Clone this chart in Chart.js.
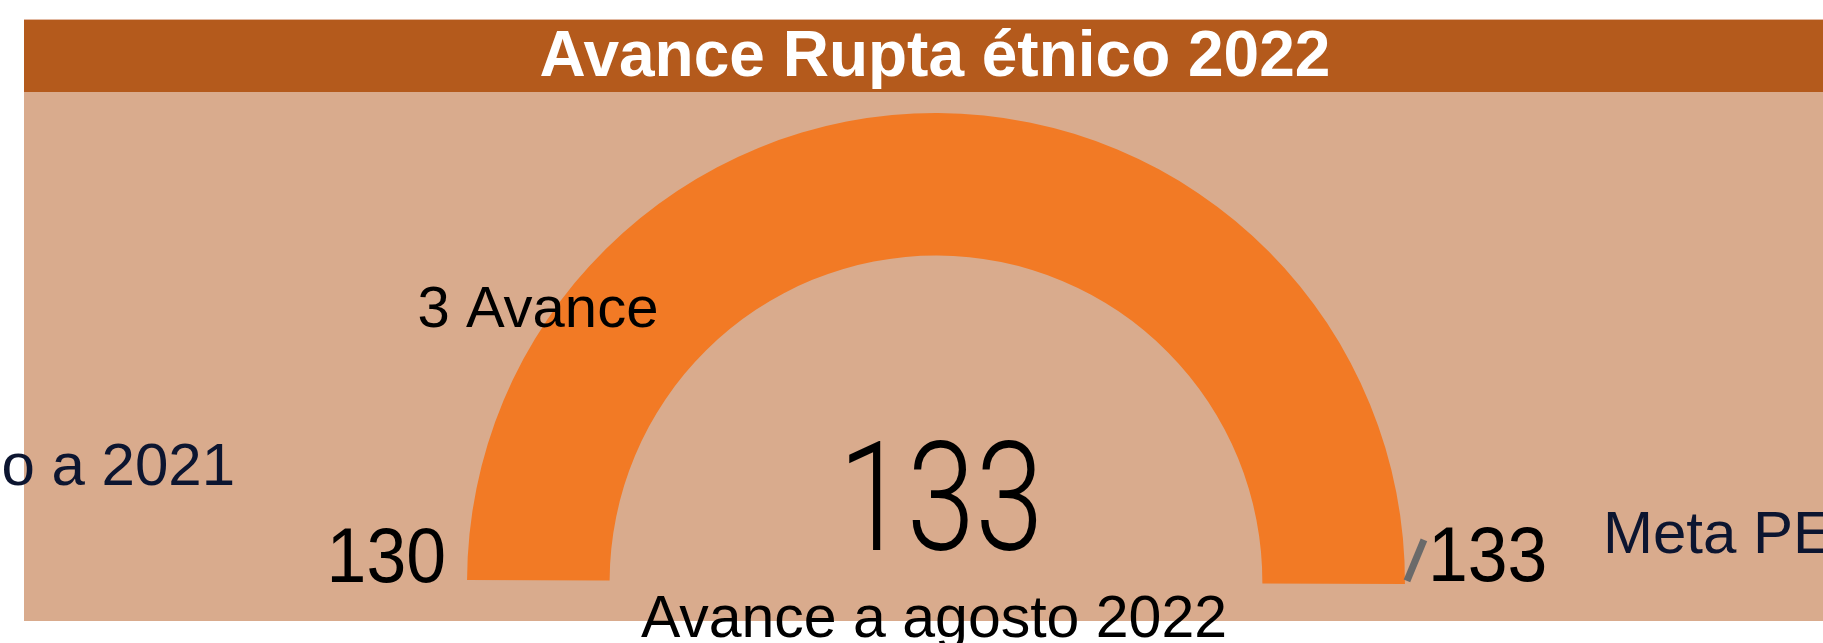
<!DOCTYPE html>
<html>
<head>
<meta charset="utf-8">
<script src="https://cdn.jsdelivr.net/npm/chart.js@4"></script>
<style>
  html, body { margin: 0; padding: 0; background: #ffffff; }
  #wrap { position: relative; width: 1823px; height: 643px; }
</style>
</head>
<body>
<div id="wrap"><canvas id="c"></canvas></div>
<script>
// ---- data ----
const titleText = "Avance Rupta étnico 2022";
const minValue = 130;          // Avance acumulado a 2021
const currentValue = 133;      // Avance a agosto 2022
const targetValue = 133;       // Meta PEI
const maxValue = 133;
const gaugeSegments = [currentValue - minValue, maxValue - currentValue];
const segmentLabels = ["Avance", "Restante"];
const labelMin = "Avance acumulado a 2021";
const labelValue = "Avance a agosto 2022";
const labelTarget = "Meta PEI 2022";
const labelDelta = (currentValue - minValue) + " Avance";

// ---- styles ----
const C = {
  header: "#B45A1C",
  panel: "#D9AB8D",
  orange: "#F27A25",
  rest: "#E7C3A8",
  tick: "#6A6A6A",
  navy: "#0C1530",
  black: "#000000",
  white: "#ffffff"
};

function scaledText(ctx, text, x, y, sx, align) {
  ctx.save();
  ctx.translate(x, y);
  ctx.scale(sx, 1);
  ctx.textAlign = align;
  ctx.fillText(text, 0, 0);
  ctx.restore();
}

const decor = {
  id: "decor",
  beforeDraw(chart) {
    const ctx = chart.ctx;
    const W = chart.width;
    ctx.save();
    ctx.fillStyle = C.panel;
    ctx.fillRect(24, 19, W - 24, 602);
    ctx.fillStyle = C.header;
    ctx.fillRect(24, 19, W - 24, 73);
    ctx.fillStyle = "#E2B9A2";
    ctx.fillRect(24, 19, W - 24, 1);
    ctx.restore();
  },
  afterDraw(chart) {
    const ctx = chart.ctx;
    const arc = chart.getDatasetMeta(0).data[0];
    const cx = arc.x, cy = arc.y, R = arc.outerRadius;
    ctx.save();
    ctx.textBaseline = "alphabetic";
    // title
    ctx.fillStyle = C.white;
    ctx.font = "bold 64px 'Liberation Sans', Arial, sans-serif";
    ctx.textAlign = "center";
    ctx.fillText(titleText, cx - 1, 76);

    // target tick marker
    ctx.strokeStyle = C.tick;
    ctx.lineWidth = 7;
    ctx.lineCap = "butt";
    ctx.beginPath();
    ctx.moveTo(cx + R + 2, cy - 1);
    ctx.lineTo(cx + R + 19, cy - 42);
    ctx.stroke();

    // min & max labels
    ctx.fillStyle = C.black;
    ctx.font = "77px 'Liberation Sans', Arial, sans-serif";
    scaledText(ctx, String(minValue), cx - R - 21, cy, 0.93, "right");
    scaledText(ctx, String(maxValue), cx + R + 23, cy - 1, 0.93, "left");

    // delta label
    ctx.font = "58px 'Liberation Sans', Arial, sans-serif";
    ctx.textAlign = "center";
    ctx.fillText(labelDelta, cx - 398, cy - 255);

    // side labels
    ctx.fillStyle = C.navy;
    ctx.font = "60px 'Liberation Sans', Arial, sans-serif";
    ctx.textAlign = "right";
    ctx.fillText(labelMin, cx - R - 232, cy - 97);
    ctx.textAlign = "left";
    ctx.fillText(labelTarget, cx + R + 198, cy - 29);

    // bottom label
    ctx.fillStyle = C.black;
    ctx.font = "59px 'Liberation Sans', Arial, sans-serif";
    ctx.textAlign = "center";
    ctx.fillText(labelValue, cx - 2, cy + 55);

    // big value
    ctx.font = "300 152px Roboto, 'Liberation Sans', sans-serif";
    scaledText(ctx, String(currentValue), cx + 5, cy - 32, 0.81, "center");

    ctx.restore();
  }
};

function build() {
  new Chart(document.getElementById("c"), {
    type: "doughnut",
    data: {
      labels: segmentLabels,
      datasets: [{
        data: gaugeSegments,
        backgroundColor: [C.orange, C.rest],
        borderWidth: 0,
        spacing: 0
      }]
    },
    options: {
      responsive: true,
      maintainAspectRatio: false,
      animation: false,
      rotation: -89.75,
      circumference: 180,
      cutout: "69.6%",
      layout: { padding: { top: 113, bottom: 59, left: 200, right: 151 } },
      plugins: {
        legend: { display: false },
        tooltip: { enabled: false },
        title: { display: false }
      }
    },
    plugins: [decor]
  });
}

Promise.all([
  document.fonts.load("300 152px Roboto"),
  document.fonts.load("bold 64px 'Liberation Sans'"),
  document.fonts.load("60px 'Liberation Sans'")
]).then(build, build);
</script>
</body>
</html>
